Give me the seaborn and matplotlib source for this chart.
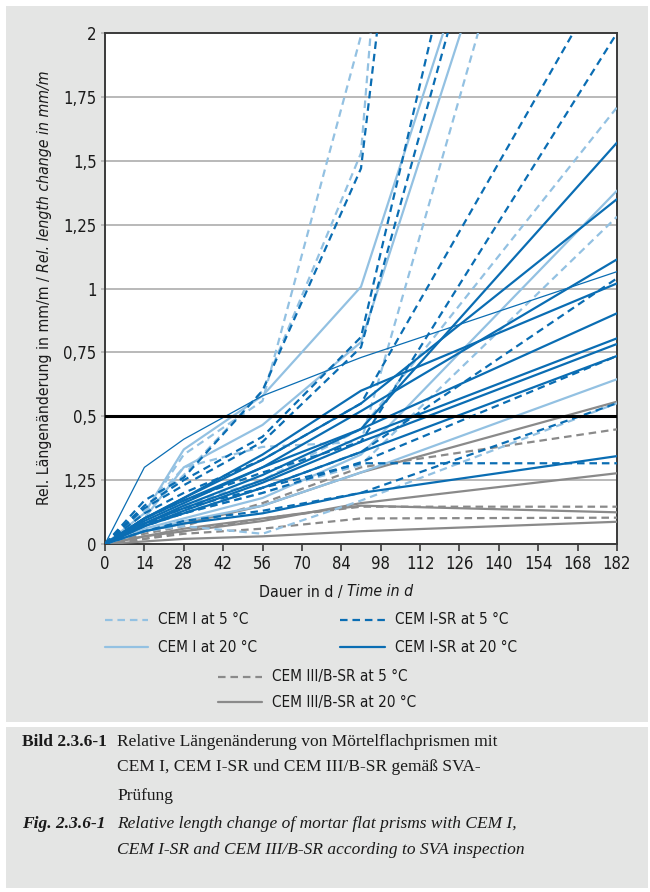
import matplotlib
matplotlib.use("Agg")
import matplotlib.pyplot as plt
from matplotlib.patches import Rectangle
import numpy as np
import pandas as pd
import seaborn as sns

# Measurement days
DAYS = [0, 14, 28, 56, 91, 182]

# Relative length change (mm/m) per prism series at DAYS
cem1_5c = [
    [0, 0.12, 0.35, 0.56, 1.99, 6.0],
    [0, 0.12, 0.27, 0.60, 1.53, 14.0],
    [0, 0.13, 0.30, 0.38, 0.40, 3.9],
    [0, 0.08, 0.15, 0.25, 0.45, 1.709],
    [0, 0.08, 0.12, 0.20, 0.31, 1.281],
    [0, 0.05, 0.07, 0.04, 0.17, 0.551],
]
cem1_20c = [
    [0, 0.12, 0.37, 0.58, 1.007, 4.1],
    [0, 0.10, 0.30, 0.466, 0.79, 3.9],
    [0, 0.06, 0.10, 0.18, 0.35, 1.383],
    [0, 0.05, 0.09, 0.15, 0.28, 0.645],
]
cem1sr_5c = [
    [0, 0.17, 0.26, 0.60, 1.47, 10.0],
    [0, 0.15, 0.25, 0.42, 0.81, 5.1],
    [0, 0.14, 0.23, 0.40, 0.77, 4.4],
    [0, 0.12, 0.20, 0.33, 0.55, 2.3],
    [0, 0.10, 0.17, 0.28, 0.40, 2.0],
    [0, 0.08, 0.14, 0.22, 0.36, 1.04],
    [0, 0.07, 0.12, 0.20, 0.32, 0.736],
    [0, 0.05, 0.09, 0.13, 0.20, 0.551],
    [0, 0.08, 0.12, 0.22, 0.316, 0.316],
]
cem1sr_20c = [
    [0, 0.10, 0.17, 0.30, 0.45, 1.571],
    [0, 0.10, 0.18, 0.33, 0.55, 1.350],
    [0, 0.09, 0.16, 0.30, 0.52, 1.114],
    [0, 0.10, 0.18, 0.35, 0.60, 1.020],
    [0, 0.08, 0.15, 0.27, 0.45, 0.903],
    [0, 0.08, 0.14, 0.25, 0.42, 0.805],
    [0, 0.07, 0.13, 0.24, 0.40, 0.783],
    [0, 0.07, 0.12, 0.22, 0.36, 0.736],
    [0, 0.05, 0.08, 0.12, 0.20, 0.344],
]
cem1sr_20c_thin = [
    [0, 0.30, 0.41, 0.58, 0.73, 1.066],
]
cem3_5c = [
    [0, 0.04, 0.07, 0.16, 0.30, 0.449],
    [0, 0.02, 0.05, 0.10, 0.146, 0.146],
    [0, 0.02, 0.04, 0.06, 0.10, 0.103],
]
cem3_20c = [
    [0, 0.05, 0.08, 0.15, 0.28, 0.557],
    [0, 0.03, 0.05, 0.09, 0.16, 0.277],
    [0, 0.03, 0.06, 0.10, 0.15, 0.124],
    [0, 0.01, 0.02, 0.03, 0.05, 0.087],
]

X_TICKS = list(range(0, 183, 14))
Y_TICKS = [0, 0.25, 0.5, 0.75, 1, 1.25, 1.5, 1.75, 2]
Y_TICK_LABELS = ["0", "1,25", "0,5", "0,75", "1", "1,25", "1,5", "1,75", "2"]

LEGEND_LABELS = ["CEM I at 5 °C", "CEM I at 20 °C", "CEM I-SR at 5 °C",
                 "CEM I-SR at 20 °C", "CEM III/B-SR at 5 °C", "CEM III/B-SR at 20 °C"]

LIGHT = "#93c1e2"
DARK = "#0a6db3"
GREY = "#8a8a8a"
DASH = (0, (3.4, 2.2))
LW = 1.6

sns.set_theme(style="white")
COND = ["Liberation Sans Narrow", "DejaVu Sans"]
SERIF = ["Liberation Serif", "DejaVu Serif"]
plt.rcParams["font.family"] = COND
plt.rcParams["font.stretch"] = "condensed"
TXT = "#1a1a1a"

W, H = 650, 892
fig = plt.figure(figsize=(W / 100, H / 100), dpi=100)
fig.patch.set_facecolor("white")

PANEL = "#e4e5e4"
def px_rect(x0, y0, x1, y1, **kw):
    fig.patches.append(Rectangle((x0 / W, 1 - y1 / H), (x1 - x0) / W, (y1 - y0) / H,
                                 transform=fig.transFigure, figure=fig, **kw))

px_rect(6, 6, 648, 722, facecolor=PANEL, edgecolor="none", zorder=-5)
px_rect(6, 727, 648, 888, facecolor=PANEL, edgecolor="none", zorder=-5)

ax = fig.add_axes([105 / W, 1 - 544 / H, 512 / W, 511 / H])
ax.set_facecolor("white")

def draw(group, color, ls, lw):
    for vals in group:
        df = pd.DataFrame({"day": DAYS, "val": vals})
        sns.lineplot(data=df, x="day", y="val", ax=ax, color=color, linestyle=ls,
                     linewidth=lw, estimator=None, sort=False, zorder=3, legend=False)

draw(cem3_20c, GREY, "-", LW)
draw(cem3_5c, GREY, DASH, LW)
draw(cem1_20c, LIGHT, "-", LW)
draw(cem1_5c, LIGHT, DASH, LW)
draw(cem1sr_20c, DARK, "-", LW)
draw(cem1sr_20c_thin, DARK, "-", 0.9)
draw(cem1sr_5c, DARK, DASH, LW)

ax.set_xlim(0, 182)
ax.set_ylim(0, 2)
ax.set_xticks(X_TICKS)
ax.set_yticks(Y_TICKS)
ax.set_yticklabels(Y_TICK_LABELS)
ax.set_xlabel("")
ax.set_ylabel("")
for y in Y_TICKS[1:-1]:
    if y == 0.5:
        continue
    ax.axhline(y, color="#b3b3b3", lw=1.3, zorder=1)
ax.axhline(0.5, color="black", lw=2.2, zorder=4)
for s in ax.spines.values():
    s.set_color("#3a3a3a")
    s.set_linewidth(1.4)
ax.tick_params(axis="x", direction="out", length=5, width=1.2, color="#3a3a3a",
               labelsize=12, pad=3, bottom=True, labelcolor=TXT)
ax.tick_params(axis="y", direction="out", length=3, width=1.2, color="#b3b3b3",
               labelsize=12, pad=3, left=True, labelcolor=TXT)

# Axis titles (upright German part, italic English part)
renderer = fig.canvas.get_renderer()
def mixed_vertical(x_px, yc_px, parts, size):
    objs = []
    for txt, style in parts:
        t = fig.text(0, 0, txt, rotation=90, rotation_mode="anchor", ha="left",
                     va="center", fontsize=size, style=style, family=COND, color=TXT)
        objs.append(t)
    hs = [o.get_window_extent(renderer).height for o in objs]
    y = yc_px + sum(hs) / 2
    for o, h in zip(objs, hs):
        o.set_position((x_px / W, 1 - y / H))
        y -= h

def mixed_horizontal(xc_px, y_px, parts, size, family):
    objs = []
    for txt, style, weight in parts:
        t = fig.text(0, 0, txt, ha="left", va="center", fontsize=size, style=style,
                     weight=weight, family=family, color=TXT)
        objs.append(t)
    ws = [o.get_window_extent(renderer).width for o in objs]
    x = xc_px - sum(ws) / 2
    for o, w in zip(objs, ws):
        o.set_position((x / W, 1 - y_px / H))
        x += w

mixed_vertical(44, 288, [("Rel. Längenänderung in mm/m / ", "normal"),
                         ("Rel. length change in mm/m", "italic")], 11.3)
mixed_horizontal(336, 592, [("Dauer in d / ", "normal", "normal"),
                            ("Time in d", "italic", "normal")], 11.3, COND)

# Legend drawn as line samples with labels
def legend_item(x0, x1, y, color, ls, label):
    fig.lines.append(plt.Line2D([x0 / W, x1 / W], [1 - y / H, 1 - y / H],
                                transform=fig.transFigure, color=color, linestyle=ls,
                                linewidth=LW))
    fig.text((x1 + 10) / W, 1 - y / H, label, ha="left", va="center", fontsize=11,
             family=COND, color=TXT)

legend_item(105, 148, 620, LIGHT, DASH, LEGEND_LABELS[0])
legend_item(105, 148, 647, LIGHT, "-", LEGEND_LABELS[1])
legend_item(340, 385, 620, DARK, DASH, LEGEND_LABELS[2])
legend_item(340, 385, 647, DARK, "-", LEGEND_LABELS[3])
legend_item(218, 262, 677, GREY, DASH, LEGEND_LABELS[4])
legend_item(218, 262, 702, GREY, "-", LEGEND_LABELS[5])

# Caption
cap = 12.5
fig.text(22 / W, 1 - 742 / H, "Bild 2.3.6-1", ha="left", va="center", fontsize=cap,
         weight="bold", family=SERIF, stretch="normal", color=TXT)
for y, line in [(742, "Relative Längenänderung von Mörtelflachprismen mit"),
                (767, "CEM I, CEM I-SR und CEM III/B-SR gemäß SVA-"),
                (796, "Prüfung")]:
    fig.text(117 / W, 1 - y / H, line, ha="left", va="center", fontsize=cap,
             family=SERIF, stretch="normal", color=TXT)
fig.text(22 / W, 1 - 824 / H, "Fig. 2.3.6-1", ha="left", va="center", fontsize=cap,
         weight="bold", style="italic", family=SERIF, stretch="normal", color=TXT)
for y, line in [(824, "Relative length change of mortar flat prisms with CEM I,"),
                (850, "CEM I-SR and CEM III/B-SR according to SVA inspection")]:
    fig.text(117 / W, 1 - y / H, line, ha="left", va="center", fontsize=cap,
             style="italic", family=SERIF, stretch="normal", color=TXT)

fig.savefig("out.png", dpi=100, facecolor=fig.get_facecolor())
